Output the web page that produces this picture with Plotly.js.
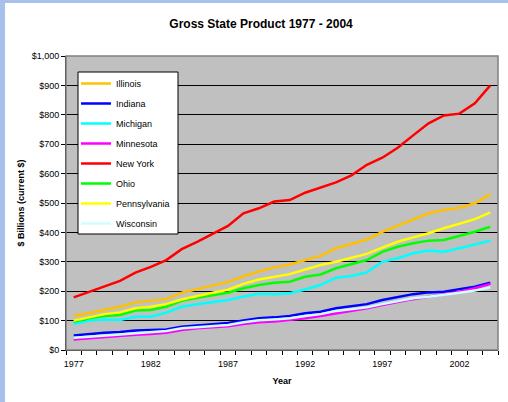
<!DOCTYPE html>
<html>
<head>
<meta charset="utf-8">
<script src="https://cdn.plot.ly/plotly-3.0.1.min.js"></script>
<style>
  html, body { margin: 0; padding: 0; background: #a8c0ec; width: 508px; height: 402px; overflow: hidden; }
  #chart { position: absolute; left: 5px; top: 3px; width: 503px; height: 399px; background: #fff; }
</style>
</head>
<body>
<div id="chart"></div>
<script>
const years = [1977,1978,1979,1980,1981,1982,1983,1984,1985,1986,1987,1988,1989,1990,1991,1992,1993,1994,1995,1996,1997,1998,1999,2000,2001,2002,2003,2004];
const illinois     = [116,127,138,147,162,167,173,195,206,219,231,251,267,281,291,306,320,346,360,376,402,423,445,465,476,484,499,530];
const indiana      = [49,54,59,61,66,68,70,79,83,87,92,100,108,111,116,125,130,142,150,156,170,181,190,196,198,207,215,229];
const michigan     = [88,100,104,102,113,113,127,147,156,163,170,182,191,190,193,206,221,246,252,264,300,312,329,338,334,346,359,372];
const minnesota    = [36,40,45,49,52,54,59,68,74,77,81,88,94,97,102,108,116,125,132,142,153,164,173,181,190,198,210,225];
const newYork      = [179,197,215,235,263,283,306,343,368,394,422,465,482,505,510,535,552,570,594,630,654,688,730,771,798,804,839,900];
const ohio         = [96,108,116,119,134,136,147,167,178,186,195,210,221,229,232,249,257,278,293,306,334,351,363,372,374,388,402,419];
const pennsylvania = [100,111,122,128,142,147,156,172,184,195,205,225,240,249,258,274,289,300,314,327,348,368,383,397,414,429,445,468];
const wisconsin    = [42,45,50,53,57,60,65,74,77,82,85,94,101,104,108,116,122,133,138,145,156,167,176,181,187,195,202,213];

const seriesNames  = ['Illinois','Indiana','Michigan','Minnesota','New York','Ohio','Pennsylvania','Wisconsin'];
const seriesValues = [illinois, indiana, michigan, minnesota, newYork, ohio, pennsylvania, wisconsin];
const seriesColors = ['#ffc000','#0000ff','#00ffff','#ff00ff','#ff0000','#00ff00','#ffff00','#ccffff'];
const xTickVals = [1977,1982,1987,1992,1997,2002];

const FONT = 'Liberation Sans, Arial, Helvetica, sans-serif';

const traces = seriesNames.map((name, i) => ({
  type: 'scatter',
  mode: 'lines',
  name: name,
  x: years,
  y: seriesValues[i],
  legendgroup: 'g' + i,
  line: { color: seriesColors[i], width: 2.5 },
  hoverinfo: 'x+y+name'
}));

// plot area in page pixels: left 66, right 498, top 56, bottom 350
const PW = 432, PH = 294;

const layout = {
  width: 503,
  height: 399,
  margin: { l: 61, r: 10, t: 53, b: 52 },
  paper_bgcolor: '#ffffff',
  plot_bgcolor: '#c0c0c0',
  font: { family: FONT, size: 9, color: '#000' },
  title: {
    text: '<b>Gross State Product 1977 - 2004</b>',
    font: { family: FONT, size: 12, color: '#000' },
    xref: 'container', x: 0.509, xanchor: 'center',
    yref: 'container', y: 1 - 21/399, yanchor: 'middle'
  },
  xaxis: {
    range: [1976.5, 2004.5],
    tickmode: 'array',
    tickvals: xTickVals,
    ticktext: xTickVals.map(String),
    ticks: 'outside', ticklen: 5, tickcolor: 'rgba(0,0,0,0)',
    minor: { ticks: 'outside', ticklen: 4, tickcolor: '#000', tick0: 1976.5, dtick: 1, showgrid: false },
    showgrid: false, zeroline: false,
    showline: true, linecolor: '#000', linewidth: 1,
    tickfont: { family: FONT, size: 9, color: '#000' },
    title: { text: '<b>Year</b>', font: { family: FONT, size: 9, color: '#000' }, standoff: 9 },
    fixedrange: true
  },
  yaxis: {
    range: [0, 1000],
    dtick: 100, tick0: 0,
    tickprefix: '$', tickformat: ',d',
    ticks: 'outside', ticklen: 4, tickcolor: '#000',
    showgrid: true, gridcolor: '#000', gridwidth: 1,
    zeroline: false,
    showline: true, linecolor: '#000', linewidth: 1,
    tickfont: { family: FONT, size: 9, color: '#000' },
    title: { text: '<b>$ Billions (current $)</b>', font: { family: FONT, size: 9, color: '#000' }, standoff: 5 },
    fixedrange: true
  },
  shapes: [
    { type: 'rect', xref: 'paper', yref: 'paper', x0: 0, x1: 1, y0: 0, y1: 1,
      line: { color: '#808080', width: 1.5 }, fillcolor: 'rgba(0,0,0,0)', layer: 'above' },
    // legend frame
    { type: 'rect', xref: 'paper', yref: 'paper',
      x0: 12/PW, x1: 112/PW, y0: 116/PH, y1: 278/PH,
      line: { color: '#000', width: 1 }, fillcolor: '#ffffff', layer: 'above' }
  ],
  showlegend: true,
  legend: {
    x: 9/PW, xanchor: 'left',
    y: 1 - 12/PH, yanchor: 'top',
    bgcolor: 'rgba(0,0,0,0)', bordercolor: 'rgba(0,0,0,0)', borderwidth: 1,
    font: { family: FONT, size: 9, color: '#000' },
    tracegroupgap: 1,
    itemclick: false, itemdoubleclick: false
  }
};

Plotly.newPlot('chart', traces, layout, { displayModeBar: false, staticPlot: true });
</script>
</body>
</html>
